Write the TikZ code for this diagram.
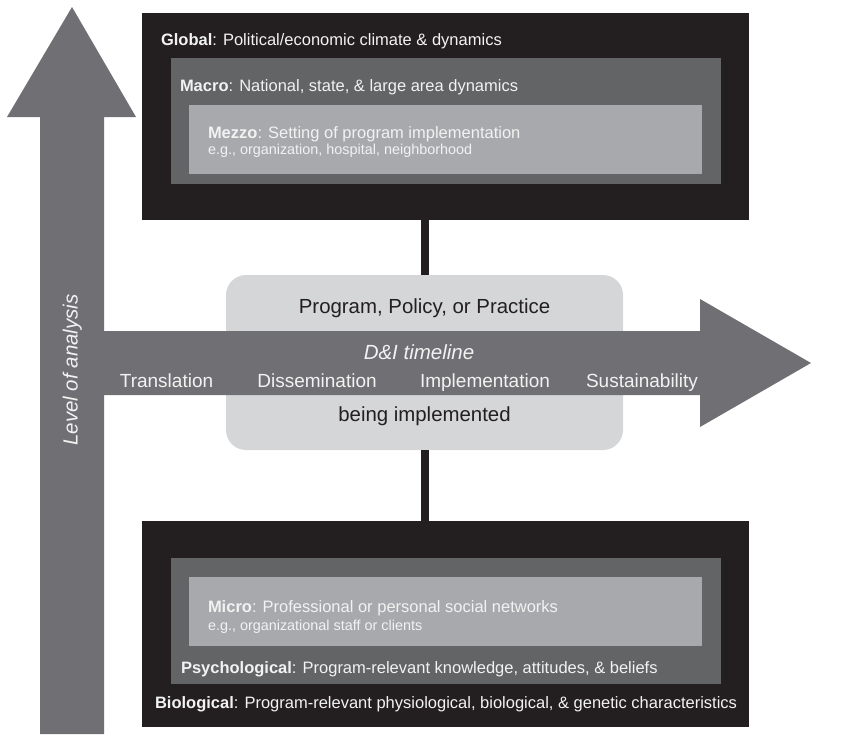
\documentclass[tikz,border=0pt]{standalone}
\usepackage{fontspec}
\setmainfont{Liberation Sans}
\definecolor{blk}{HTML}{231F20}
\definecolor{macrog}{HTML}{636466}
\definecolor{mezzog}{HTML}{A7A9AC}
\definecolor{arrg}{HTML}{707074}
\definecolor{midg}{HTML}{D5D6D8}
\definecolor{txtw}{HTML}{F2F2F2}
\begin{document}
\begin{tikzpicture}[x=1pt,y=-1pt,
  box/.style={draw=none, inner sep=0pt, outer sep=0pt, anchor=north west},
  lbl/.style={inner sep=0pt, outer sep=0pt, anchor=base west, text=txtw, font=\fontsize{16.5}{19}\selectfont},
  sml/.style={inner sep=0pt, outer sep=0pt, anchor=base west, text=txtw, font=\fontsize{14.4}{17}\selectfont},
  stage/.style={inner sep=0pt, outer sep=0pt, anchor=base, text=txtw, font=\fontsize{19}{22}\selectfont},
  dark/.style={inner sep=0pt, outer sep=0pt, anchor=base, text=blk, font=\fontsize{20.4}{24}\selectfont},
  conn/.style={draw=blk, line width=8pt}]
\useasboundingbox (0,0) rectangle (858,734);
% vertical arrow
\fill[arrg] (40,734) -- (40,117) -- (7,117) -- (72,7) -- (136,117) -- (104,117) -- (104,734) -- cycle;
% top boxes
\node[box, fill=blk, minimum width=607pt, minimum height=207pt] (global) at (142,13) {};
\node[box, fill=macrog, minimum width=550pt, minimum height=126pt] (macro) at (171,58) {};
\node[box, fill=mezzog, minimum width=513pt, minimum height=69pt] (mezzo) at (189,105) {};
% middle box
\node[box, fill=midg, rounded corners=20pt, minimum width=397pt, minimum height=175pt] (pp) at (226,275) {};
% horizontal arrow
\fill[arrg] (60,331) -- (700,331) -- (700,299) -- (811,363) -- (700,427) -- (700,395) -- (60,395) -- cycle;
% bottom boxes
\node[box, fill=blk, minimum width=607pt, minimum height=206pt] (bio) at (142,521) {};
\node[box, fill=macrog, minimum width=550pt, minimum height=126pt] (psych) at (171,558) {};
\node[box, fill=mezzog, minimum width=513pt, minimum height=69pt] (micro) at (189,577) {};
% connectors
\draw[conn] (pp.north |- global.south) -- (pp.north);
\draw[conn] (pp.south) -- (pp.south |- bio.north);
% texts top
\node[lbl] (tglobal) at (161,45) {\textbf{Global}: Political/economic climate \& dynamics};
\node[lbl] (tmacro) at (180,91) {\textbf{Macro}: National, state, \& large area dynamics};
\node[lbl] (tmezzo) at (208,138) {\textbf{Mezzo}: Setting of program implementation};
\node[sml] (tmezzoeg) at (208,154) {e.g., organization, hospital, neighborhood};
% middle texts
\node[dark] (tpp) at (424.5,313) {Program, Policy, or Practice};
\node[dark] (tbeing) at (424.5,421) {being implemented};
\node[stage, font=\fontsize{20.5}{24}\selectfont\itshape] (ttime) at (419,359) {D\&I timeline};
\node[stage] (ttrans) at (166.5,387) {Translation};
\node[stage] (tdiss) at (317,387) {Dissemination};
\node[stage] (timpl) at (485,387) {Implementation};
\node[stage] (tsust) at (642,387) {Sustainability};
\node[stage, font=\fontsize{20.5}{24}\selectfont\itshape, rotate=90] (tlevel) at (77.5,370) {Level of analysis};
% bottom texts
\node[lbl] (tmicro) at (208,612) {\textbf{Micro}: Professional or personal social networks};
\node[sml] (tmicroeg) at (208,630) {e.g., organizational staff or clients};
\node[lbl] (tpsych) at (181,673) {\textbf{Psychological}: Program-relevant knowledge, attitudes, \& beliefs};
\node[lbl] (tbio) at (155,708) {\textbf{Biological}: Program-relevant physiological, biological, \& genetic characteristics};
\end{tikzpicture}
\end{document}
